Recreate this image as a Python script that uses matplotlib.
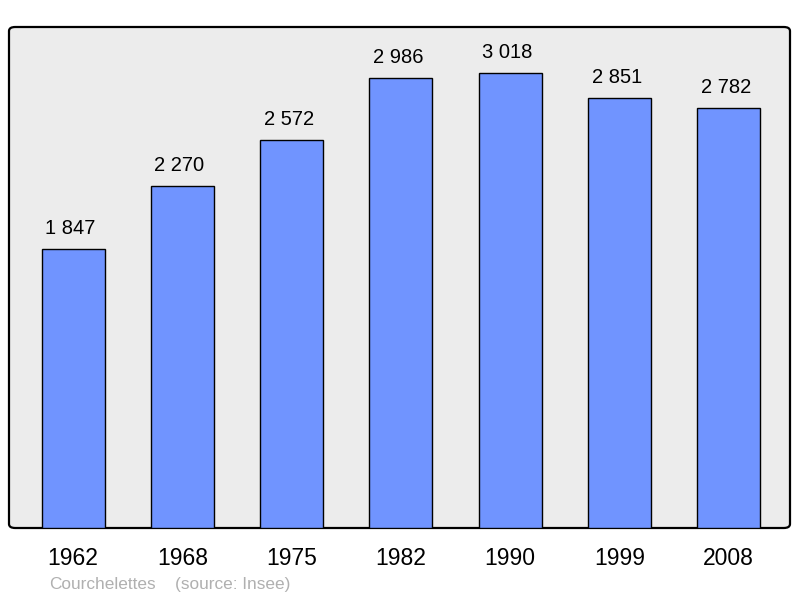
import matplotlib.pyplot as plt
from matplotlib.patches import FancyBboxPatch

# données
years = ['1962', '1968', '1975', '1982', '1990', '1999', '2008']
population = [1847, 2270, 2572, 2986, 3018, 2851, 2782]
commune = 'Courchelettes'
source = '(source: Insee)'

plt.rcParams['font.family'] = ['Liberation Sans', 'DejaVu Sans']

fig = plt.figure(figsize=(8, 5.98), dpi=100)
ax = fig.add_axes([9 / 800, 1 - 528 / 598, 781 / 800, 501 / 598])

x = range(len(years))
ax.bar(x, population, width=0.577, color='#7094ff', edgecolor='black',
       linewidth=1.0, zorder=2)

for i, v in enumerate(population):
    label = f'{v:,}'.replace(',', ' ')
    ax.annotate(label, (i, v), textcoords='offset points', xytext=(-2, 8),
                ha='center', va='bottom', fontsize=14.5)

ax.set_xlim(-0.586, 6.56)
ax.set_ylim(0, 3322)

# fond gris avec coins arrondis
ax.set_facecolor('none')
for s in ax.spines.values():
    s.set_visible(False)
frame = FancyBboxPatch((0, 0), 1, 1, boxstyle='round,pad=0,rounding_size=0.008',
                       transform=ax.transAxes, facecolor='#ececec',
                       edgecolor='black', linewidth=1.6, zorder=0,
                       clip_on=False)
ax.add_patch(frame)

ax.set_xticks(list(x))
ax.set_xticklabels(years, fontsize=16.5)
ax.tick_params(axis='x', length=0, pad=14)
ax.set_yticks([])

fig.text(49 / 800, 1 - 589 / 598, commune, color='#b0b0b0',
         fontsize=12.4, va='baseline', ha='left')
fig.text(175 / 800, 1 - 589 / 598, source, color='#b0b0b0',
         fontsize=12.4, va='baseline', ha='left')

fig.savefig('out.png', dpi=100)
